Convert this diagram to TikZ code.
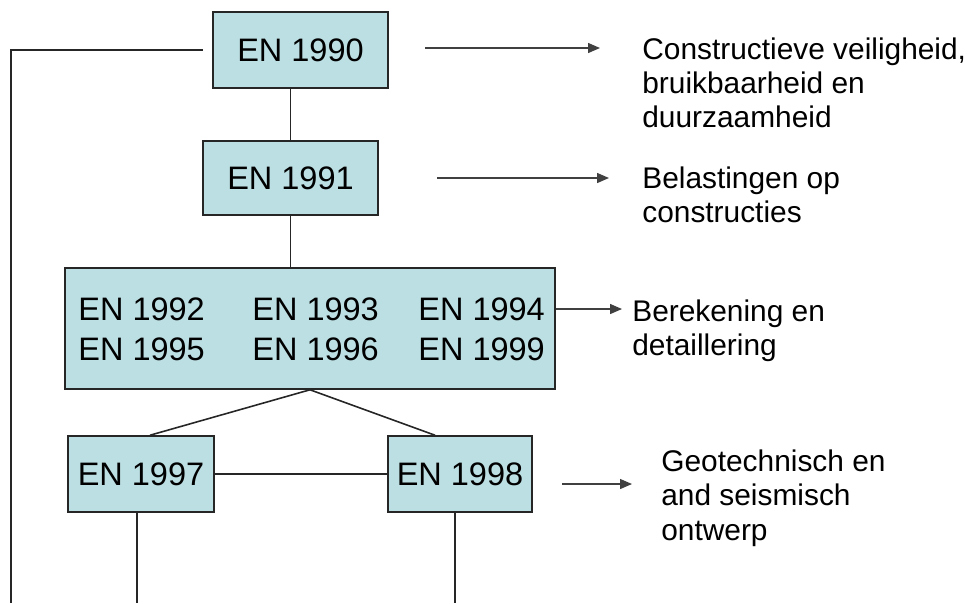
\documentclass[tikz,border=0pt]{standalone}
\usepackage{fontspec}
\setmainfont{Liberation Sans}
\usetikzlibrary{arrows.meta}
\definecolor{enblauw}{RGB}{188,223,227}

\begin{document}
\begin{tikzpicture}[x=0.02cm, y=-0.02cm,
    enbox/.style={draw=black!85, fill=enblauw, line width=0.9pt, inner sep=0pt, font=\fontsize{18.5}{22}\selectfont},
    entekst/.style={anchor=west, inner sep=0pt, font=\fontsize{18.5}{22}\selectfont},
    lijn/.style={draw=black!85, line width=0.9pt},
    pijl/.style={draw=black!75, line width=0.8pt, -{Triangle[length=2.4mm,width=2mm]}},
    uitleg/.style={anchor=west, inner sep=0pt, align=left, font=\fontsize{17}{19.5}\selectfont}]

    \useasboundingbox (0,0) rectangle (969,603);

    % dozen
    \node[enbox, minimum width=3.5cm, minimum height=1.52cm] (n1990) at (300.5,50) {EN 1990};
    \node[enbox, minimum width=3.5cm, minimum height=1.48cm] (n1991) at (290.5,178) {EN 1991};
    \node[enbox, minimum width=9.8cm, minimum height=2.42cm] (groep) at (310,328.5) {};
    \node[enbox, minimum width=2.92cm, minimum height=1.52cm] (n1997) at (141,474) {EN 1997};
    \node[enbox, minimum width=2.88cm, minimum height=1.52cm] (n1998) at (460,474) {EN 1998};

    % normen in de grote doos
    \node[entekst] (n1992) at (78,309) {EN 1992};
    \node[entekst] (n1993) at (252,309) {EN 1993};
    \node[entekst] (n1994) at (418,309) {EN 1994};
    \node[entekst] (n1995) at (78,349) {EN 1995};
    \node[entekst] (n1996) at (252,349) {EN 1996};
    \node[entekst] (n1999) at (418,349) {EN 1999};

    % vrije eindpunten
    \coordinate (hoek) at (11,50);
    \coordinate (onder) at (11,603);
    \coordinate (o97) at (137,603);
    \coordinate (o98) at (455,603);
    \coordinate (p1a) at (425,48);
    \coordinate (p1b) at (600,48);
    \coordinate (p2a) at (437,178);
    \coordinate (p2b) at (609,178);
    \coordinate (p3b) at (622,309);
    \coordinate (p4a) at (562,484);
    \coordinate (p4b) at (632,484);

    % verbindingen
    \draw[lijn] ([xshift=-0.18cm]n1990.west) -- (hoek) -- (onder); % links naar beneden
    \draw[lijn] (n1991.north) -- (n1991.north |- n1990.south);
    \draw[lijn] (n1991.south) -- (n1991.south |- groep.north);
    \draw[lijn] (groep.south) -- ([xshift=0.18cm]n1997.north);
    \draw[lijn] (groep.south) -- ([xshift=-0.5cm]n1998.north);
    \draw[lijn] (n1997.east) -- (n1998.west);
    \draw[lijn] (n1997.south -| o97) -- (o97);
    \draw[lijn] (n1998.south -| o98) -- (o98);

    % pijlen
    \draw[pijl] (p1a) -- (p1b);
    \draw[pijl] (p2a) -- (p2b);
    \draw[pijl] (groep.east |- p3b) -- (p3b);
    \draw[pijl] (p4a) -- (p4b);

    % uitleg
    \node[uitleg] (t1) at (642,83) {Constructieve veiligheid,\\bruikbaarheid en\\duurzaamheid};
    \node[uitleg] (t2) at (642,194.5) {Belastingen op\\constructies};
    \node[uitleg] (t3) at (632,330.5) {Berekening en\\detaillering};
    \node[uitleg] (t4) at (661,498) {Geotechnisch en\\and seismisch\\ontwerp};
\end{tikzpicture}
\end{document}
